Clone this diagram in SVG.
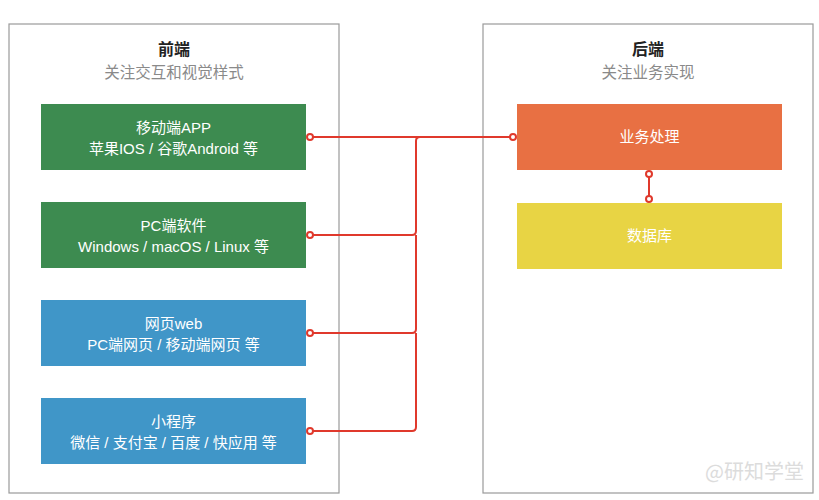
<svg xmlns="http://www.w3.org/2000/svg" width="819" height="500" viewBox="0 0 819 500">
<style>
.panel{fill:#fff;stroke:#9a9a9a;stroke-width:1.2}
.t{font-family:"Liberation Sans","Noto Sans CJK SC",sans-serif;text-anchor:middle}
.title{font-size:16px;font-weight:bold;fill:#222}
.sub{font-size:15.5px;fill:#8a8a8a}
.lbl{font-size:15px;fill:#fff}
.conn{fill:none;stroke:#e0392c;stroke-width:2}
.dot{fill:#fff;stroke:#e0392c;stroke-width:2}
</style>
<rect width="819" height="500" fill="#fff"/>
<g id="frontend">
<rect class="panel" x="9" y="24" width="330" height="469"/>
<text class="t title" x="174" y="55">前端</text>
<text class="t sub" x="174" y="78">关注交互和视觉样式</text>
</g>
<g id="backend">
<rect class="panel" x="483" y="24" width="330" height="469"/>
<text class="t title" x="648" y="55">后端</text>
<text class="t sub" x="648" y="78">关注业务实现</text>
</g>
<g id="app">
<rect x="41" y="104" width="265" height="66" fill="#3d8b50"/>
<text class="t lbl" x="173.5" y="133">移动端APP</text>
<text class="t lbl" x="173.5" y="154">苹果IOS / 谷歌Android 等</text>
</g>
<g id="pc">
<rect x="41" y="202" width="265" height="66" fill="#3d8b50"/>
<text class="t lbl" x="173.5" y="231">PC端软件</text>
<text class="t lbl" x="173.5" y="252">Windows / macOS / Linux 等</text>
</g>
<g id="web">
<rect x="41" y="300" width="265" height="66" fill="#4096c8"/>
<text class="t lbl" x="173.5" y="329">网页web</text>
<text class="t lbl" x="173.5" y="350">PC端网页 / 移动端网页 等</text>
</g>
<g id="mini">
<rect x="41" y="398" width="265" height="66" fill="#4096c8"/>
<text class="t lbl" x="173.5" y="427">小程序</text>
<text class="t lbl" x="173.5" y="448">微信 / 支付宝 / 百度 / 快应用 等</text>
</g>
<g id="biz">
<rect x="517" y="104" width="265" height="66" fill="#e87043"/>
<text class="t lbl" x="649.5" y="142">业务处理</text>
</g>
<g id="db">
<rect x="517" y="203" width="265" height="66" fill="#e8d444"/>
<text class="t lbl" x="649.5" y="241">数据库</text>
</g>
<g id="connectors">
<path class="conn" d="M310 137 H513"/>
<path class="conn" d="M310 235 H412 Q416 235 416 231 V141 Q416 137 420 137"/>
<path class="conn" d="M310 333 H412 Q416 333 416 329 V235"/>
<path class="conn" d="M310 431 H412 Q416 431 416 427 V333"/>
<path class="conn" d="M649 174 V199"/>
<circle class="dot" cx="310" cy="137" r="3"/>
<circle class="dot" cx="310" cy="235" r="3"/>
<circle class="dot" cx="310" cy="333" r="3"/>
<circle class="dot" cx="310" cy="431" r="3"/>
<circle class="dot" cx="513" cy="137" r="3"/>
<circle class="dot" cx="649" cy="174" r="3"/>
<circle class="dot" cx="649" cy="199" r="3"/>
</g>
<text x="804" y="479" font-family="Noto Sans CJK SC, sans-serif" font-size="20" fill="#dcdcdc" text-anchor="end">@研知学堂</text>
</svg>
